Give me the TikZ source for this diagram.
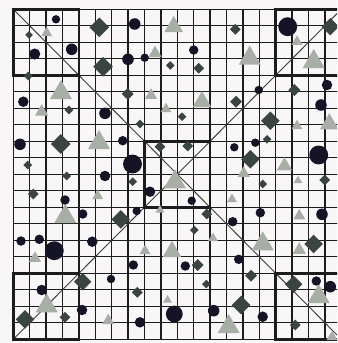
\documentclass[tikz,border=0pt]{standalone}
\usetikzlibrary{shapes.geometric}
\definecolor{paper}{RGB}{248,246,246}
\definecolor{ink}{RGB}{28,28,28}
\definecolor{dotblue}{RGB}{20,20,38}
\definecolor{trigray}{RGB}{166,174,166}
\definecolor{gemgray}{RGB}{58,68,64}
\tikzset{
  gridline/.style={draw=ink, line width=1.1pt},
  diagline/.style={draw=ink!85, line width=0.8pt},
  framebox/.style={draw=ink, line width=2.3pt},
  dot/.style={circle, fill=dotblue, inner sep=0pt},
  tri/.style={regular polygon, regular polygon sides=3, fill=trigray, inner sep=0pt},
  gem/.style={diamond, aspect=1, fill=gemgray, inner sep=0pt},
}

\begin{document}
\begin{tikzpicture}[x=0.03cm, y=-0.03cm]
  \useasboundingbox (0,0) rectangle (337,343);
  \clip (0,0) rectangle (337,343);
  \fill[paper] (0,0) rectangle (337,343);
  % corners of the grid
  \coordinate (nw) at (13.3,9.3);
  \coordinate (ne) at (341.3,9.3);
  \coordinate (sw) at (13.3,339.3);
  \coordinate (se) at (341.3,339.3);
  % 20 x 20 grid
  \foreach \k in {0,...,20} {
    \draw[gridline] ({13.3+16.4*\k},9.3) -- ({13.3+16.4*\k},339.3);
    \draw[gridline] (13.3,{9.3+16.5*\k}) -- (341.3,{9.3+16.5*\k});
  }
  \draw[diagline] (nw) -- (se);
  \draw[diagline] (ne) -- (sw);
  % the five frames
  \draw[framebox] (nw) rectangle (78.9,75.3);
  \draw[framebox] (275.7,9.3) rectangle (ne |- 0,75.3);
  \draw[framebox] (13.3,273.3) rectangle (78.9,339.3);
  \draw[framebox] (275.7,273.3) rectangle (se);
  \draw[framebox] (144.5,141.3) rectangle (210.1,207.3);
  % triangles
  \foreach \x/\y/\w [count=\i] in {46.7/33/10, 173.7/26.7/17, 155/53.3/12,
      61/92.7/20, 41.7/111.7/12, 151/95.3/11, 166/109/10, 99/142.7/20,
      297/41.7/10, 313.7/61.7/20, 249.7/58.3/20, 202/101.7/17, 297/126/10,
      329.3/124/17, 284.5/166/14, 175/182/20, 160/210/8, 97.7/196/10,
      65.3/216.7/20, 145/251/10, 35/258.3/11, 46.7/306/20, 108.3/320.7/11,
      172/251.7/17, 243.7/173.3/11, 298/180.7/8, 232/199.3/9, 299.3/216/11,
      213/238.3/9, 262.7/244/20, 299.3/250/12, 318.7/296.7/20, 167.5/300/8,
      228.7/326.7/20, 332/337/10}
    \node[tri, minimum size=1.27*\w*0.03cm] (t\i) at (\x,\y) {};
  % diamonds
  \foreach \x/\y/\h [count=\i] in {29/35/3.5, 99.3/27.3/9, 103/66.7/9,
      170.3/65.5/4, 28.3/76/4, 69/110/4, 127.7/94/5.5, 140/124/4,
      60.7/144/9, 160/146.7/5, 27.7/165/4, 235.3/29.3/5, 330.3/26.7/8,
      198.7/68.3/5, 294.3/90/5.5, 236/101.7/5.5, 182/116.7/4, 270.3/120.7/8.5,
      267/139.3/4, 187.7/146/5, 250.3/159.3/8.5, 132.7/181.7/4, 206.7/214/5,
      66.7/176/4, 33.3/194/5, 120.7/219.3/8.5, 82.7/281.7/8, 137.3/292.3/5,
      25/319.3/8.5, 65/317.3/5, 262.7/184/4, 324.7/180/5, 194.3/230/4,
      313.7/244/8.5, 197.7/265/5.5, 251/275.7/5.5, 293.7/284.3/8,
      206.3/284/4, 241/305/8.5, 295.3/325/5}
    \node[gem, minimum size=2.2*\h*0.03cm] (g\i) at (\x,\y) {};
  % circles
  \foreach \x/\y/\r [count=\i] in {56/19.3/4, 34.7/54/5.3, 71.7/49.3/5.5,
      134.7/24/5.5, 128/59.3/5.5, 144.7/57.7/4, 23.3/101.7/5, 105/113.3/5.5,
      20/144.3/5.5, 122.7/140.7/4.5, 132.5/164/9, 287.7/26.7/9, 193.7/50/4.5,
      258.7/90/4, 327/85/5, 321/105/5.5, 234.3/147.3/4, 255.3/142.7/4,
      318.7/155/9, 150/191.7/5, 191.7/200.7/4, 136.7/211/4, 105/176/5,
      65/200/4.5, 82.7/214/4.5, 21/241/4.5, 39.3/239.3/4.5, 54.3/250.7/9,
      92.3/241.7/5, 133.3/265/4.5, 111/279/4, 41.7/290/5, 82/310/5,
      140/322.3/5, 174.3/314/8, 260.3/212.7/4.5, 322/214.3/5.5,
      232.7/221.7/4.5, 238.7/259.3/4.5, 185.3/266/4.5, 316.3/281/4.5,
      330.3/286.7/5.5, 213.7/310.7/5.5, 262.7/316.7/5}
    \node[dot, minimum size=2.1*\r*0.03cm] (c\i) at (\x,\y) {};
\end{tikzpicture}
\end{document}
